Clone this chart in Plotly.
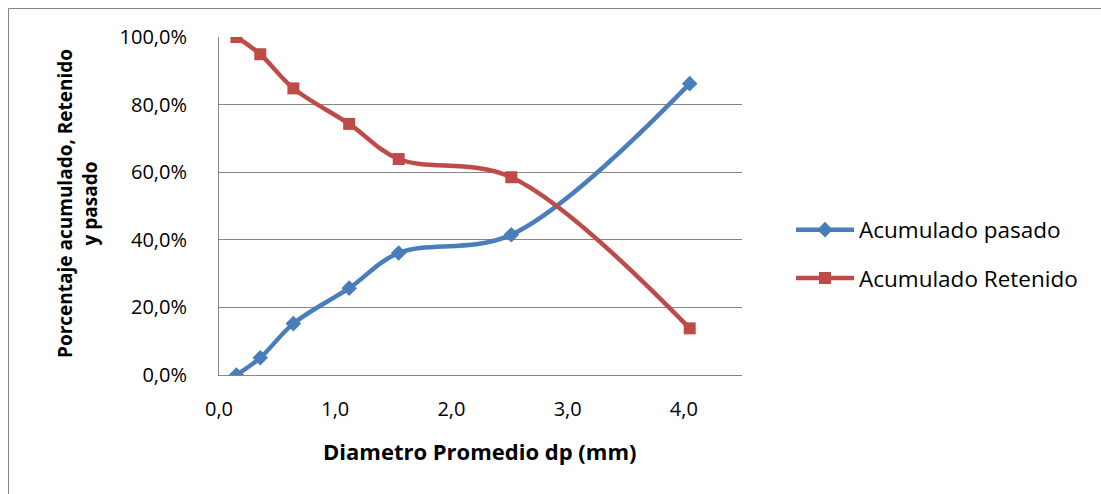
import plotly.graph_objects as go

diametro = [0.15, 0.355, 0.64, 1.12, 1.546, 2.515, 4.05]
acum_pasado = [0.0, 0.051, 0.152, 0.257, 0.361, 0.415, 0.862]
acum_retenido = [1.0, 0.949, 0.848, 0.743, 0.639, 0.585, 0.138]

x_ticks = [0, 1, 2, 3, 4]
y_ticks = [0, 0.2, 0.4, 0.6, 0.8, 1.0]

W, H = 1101, 494
L, R, T, B = 219, 742, 37, 375
FONT = "Open Sans"

fig = go.Figure()
fig.add_trace(go.Scatter(
    x=diametro, y=acum_pasado, name="Acumulado pasado", legendgroup="a",
    mode="lines+markers", line=dict(color="#4A7EBB", width=4.5, shape="spline", smoothing=1),
    marker=dict(symbol="diamond", size=12, color="#4A7EBB")))
fig.add_trace(go.Scatter(
    x=diametro, y=acum_retenido, name="Acumulado Retenido", legendgroup="b",
    mode="lines+markers", line=dict(color="#BE4B48", width=4.5, shape="spline", smoothing=1),
    marker=dict(symbol="square", size=12, color="#BE4B48")))

pw, ph = R - L, B - T
def px(x):
    return (x - L) / pw
def py(y):
    return (B - y) / ph

fig.update_layout(
    width=W, height=H,
    margin=dict(l=L, r=W - R, t=T, b=H - B, pad=0),
    paper_bgcolor="white", plot_bgcolor="white",
    separators=",.",
    font=dict(family=FONT, size=20, color="black"),
    showlegend=True,
    legend=dict(x=px(791), y=py(254), xanchor="left", yanchor="middle",
                font=dict(family=FONT, size=22.5), itemwidth=58,
                tracegroupgap=16, bgcolor="rgba(0,0,0,0)"),
    xaxis=dict(range=[0, 4.5], tickvals=x_ticks, tickformat=".1f",
               showgrid=False, zeroline=False, showline=True, linecolor="#868686",
               linewidth=1, ticks="", tickfont=dict(size=20), ticklabelstandoff=16),
    yaxis=dict(range=[0, 1], tickvals=y_ticks, tickformat=".1%",
               showgrid=True, gridcolor="#868686", gridwidth=1, zeroline=False,
               showline=True, linecolor="#868686", linewidth=1, ticks="",
               tickfont=dict(size=20), ticklabelstandoff=27),
    annotations=[
        dict(text="<b>Diametro Promedio dp (mm)</b>", xref="paper", yref="paper",
             x=px(479), y=py(451), xanchor="center", yanchor="middle",
             showarrow=False, font=dict(family=FONT, size=22)),
        dict(text="<b>Porcentaje acumulado, Retenido<br>y pasado</b>", xref="paper", yref="paper",
             x=px(77), y=py(204), xanchor="center", yanchor="middle", textangle=-90,
             showarrow=False, font=dict(family=FONT, size=19)),
    ],
    shapes=[
        dict(type="line", xref="paper", yref="paper", x0=px(8.5), x1=px(1120), y0=py(8.5), y1=py(8.5),
             line=dict(color="#868686", width=1)),
        dict(type="line", xref="paper", yref="paper", x0=px(8.5), x1=px(8.5), y0=py(8.5), y1=py(510),
             line=dict(color="#868686", width=1)),
    ],
)

fig.write_html("out.html")
